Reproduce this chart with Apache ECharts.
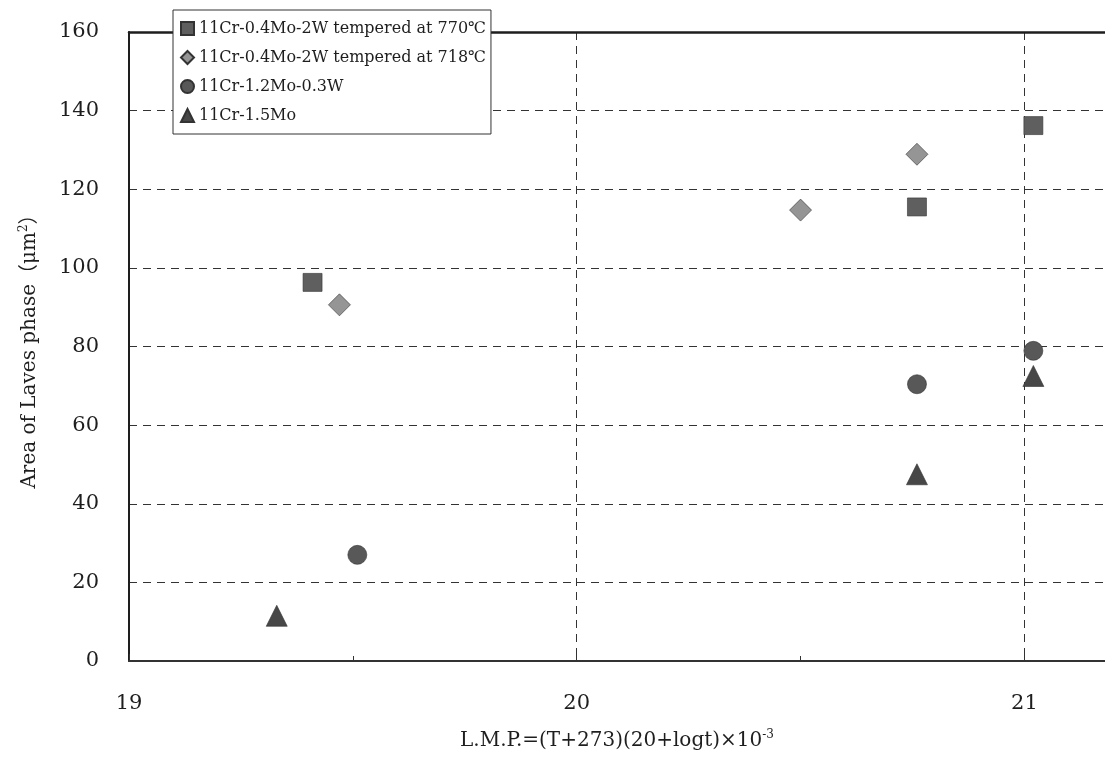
<!DOCTYPE html>
<html>
<head>
<meta charset="utf-8">
<script src="https://cdn.jsdelivr.net/npm/echarts@6/dist/echarts.min.js"></script>
<style>
  html, body { margin: 0; padding: 0; background: #fff; }
  #chart { width: 1105px; height: 761px; }
</style>
</head>
<body>
<div id="chart"></div>
<script>
// Larson-Miller parameter (x) and Laves phase area in µm² (y) per alloy
const seriesNames = [
  '11Cr-0.4Mo-2W tempered at 770\u2103',
  '11Cr-0.4Mo-2W tempered at 718\u2103',
  '11Cr-1.2Mo-0.3W',
  '11Cr-1.5Mo'
];
const lmp770 = [19.41, 20.76, 21.02];
const area770 = [96.3, 115.5, 136.2];
const lmp718 = [19.47, 20.50, 20.76];
const area718 = [90.6, 114.7, 128.9];
const lmpMo12 = [19.51, 20.76, 21.02];
const areaMo12 = [27.0, 70.4, 78.9];
const lmpMo15 = [19.33, 20.76, 21.02];
const areaMo15 = [11.5, 47.5, 72.5];
const yTicks = [0, 20, 40, 60, 80, 100, 120, 140, 160];
const xTicks = [19, 20, 21];

const pair = (xs, ys) => xs.map((x, i) => [x, ys[i]]);

const serif = '"DejaVu Serif", "Liberation Serif", "Noto Sans CJK JP", serif';
const ink = '#1e1e1e';

const markerStyles = [
  { symbol: 'rect', size: [19, 18], color: '#5f5f5f' },
  { symbol: 'diamond', size: 22, color: '#959595' },
  { symbol: 'circle', size: 19, color: '#585858' },
  { symbol: 'triangle', size: 21, color: '#474747' }
];
const dataSets = [
  pair(lmp770, area770),
  pair(lmp718, area718),
  pair(lmpMo12, areaMo12),
  pair(lmpMo15, areaMo15)
];

const chart = echarts.init(document.getElementById('chart'), null, { renderer: 'canvas' });

chart.setOption({
  backgroundColor: '#fff',
  animation: false,
  textStyle: { fontFamily: serif, color: ink },
  grid: { left: 129, top: 32, right: 0, bottom: 100, containLabel: false },
  legend: {
    orient: 'vertical',
    left: 173,
    top: 10,
    padding: [10, 5, 10, 7],
    itemGap: 12,
    itemWidth: 13,
    itemHeight: 13,
    itemTextGap: 5,
    backgroundColor: '#fff',
    borderColor: '#333',
    borderWidth: 1,
    borderRadius: 0,
    textStyle: { fontFamily: serif, fontSize: 16, color: ink, lineHeight: 17 },
    data: seriesNames.map((n, i) => ({ name: n, icon: markerStyles[i].symbol }))
  },
  xAxis: [
    {
      type: 'value',
      min: 19,
      max: 21.18,
      interval: 1,
      position: 'bottom',
      name: 'L.M.P.=(T+273)(20+logt)\u00d710{sup|-3}',
      nameLocation: 'middle',
      nameGap: 68,
      nameTextStyle: {
        fontFamily: serif, fontSize: 20, color: ink,
        rich: { sup: { fontFamily: serif, fontSize: 12, color: ink, verticalAlign: 'top', padding: [0, 0, 12, 0] } }
      },
      axisLine: { show: true, lineStyle: { color: '#333', width: 2 } },
      axisTick: { show: true, inside: true, length: 7, lineStyle: { color: '#333', width: 1 } },
      minorTick: { show: true, splitNumber: 2, length: 5, lineStyle: { color: '#333', width: 1 } },
      axisLabel: {
        fontFamily: serif, fontSize: 21, color: ink, margin: 32,
        showMaxLabel: false,
        formatter: v => (xTicks.indexOf(v) >= 0 ? String(v) : '')
      },
      splitLine: { show: true, lineStyle: { color: '#333', width: 1, type: [8, 6] } }
    },
    {
      // solid frame line along the top of the plot
      type: 'value',
      min: 19,
      max: 21.18,
      position: 'top',
      axisLine: { show: true, lineStyle: { color: '#1e1e1e', width: 2.5 } },
      axisTick: { show: false },
      axisLabel: { show: false },
      splitLine: { show: false }
    }
  ],
  yAxis: {
    type: 'value',
    min: 0,
    max: 160,
    interval: 20,
    name: 'Area of Laves phase\uff08\u03bcm{sup|2}\uff09',
    nameLocation: 'middle',
    nameGap: 88,
    nameRotate: 90,
    nameTextStyle: {
      fontFamily: serif, fontSize: 20, color: ink,
      rich: { sup: { fontFamily: serif, fontSize: 12, color: ink, verticalAlign: 'top', padding: [0, 0, 11, 0] } }
    },
    axisLine: { show: true, lineStyle: { color: '#1e1e1e', width: 2 } },
    axisTick: { show: false },
    axisLabel: {
      fontFamily: serif, fontSize: 21, color: ink, margin: 30,
      formatter: v => (yTicks.indexOf(v) >= 0 ? String(v) : '')
    },
    splitLine: { show: true, lineStyle: { color: '#333', width: 1, type: [8, 6] } }
  },
  series: seriesNames.map((n, i) => ({
    name: n,
    type: 'scatter',
    xAxisIndex: 0,
    symbol: markerStyles[i].symbol,
    symbolSize: markerStyles[i].size,
    itemStyle: { color: markerStyles[i].color, borderColor: '#333', borderWidth: 0.6, opacity: 1 },
    data: dataSets[i],
    z: 3
  }))
});
</script>
</body>
</html>
